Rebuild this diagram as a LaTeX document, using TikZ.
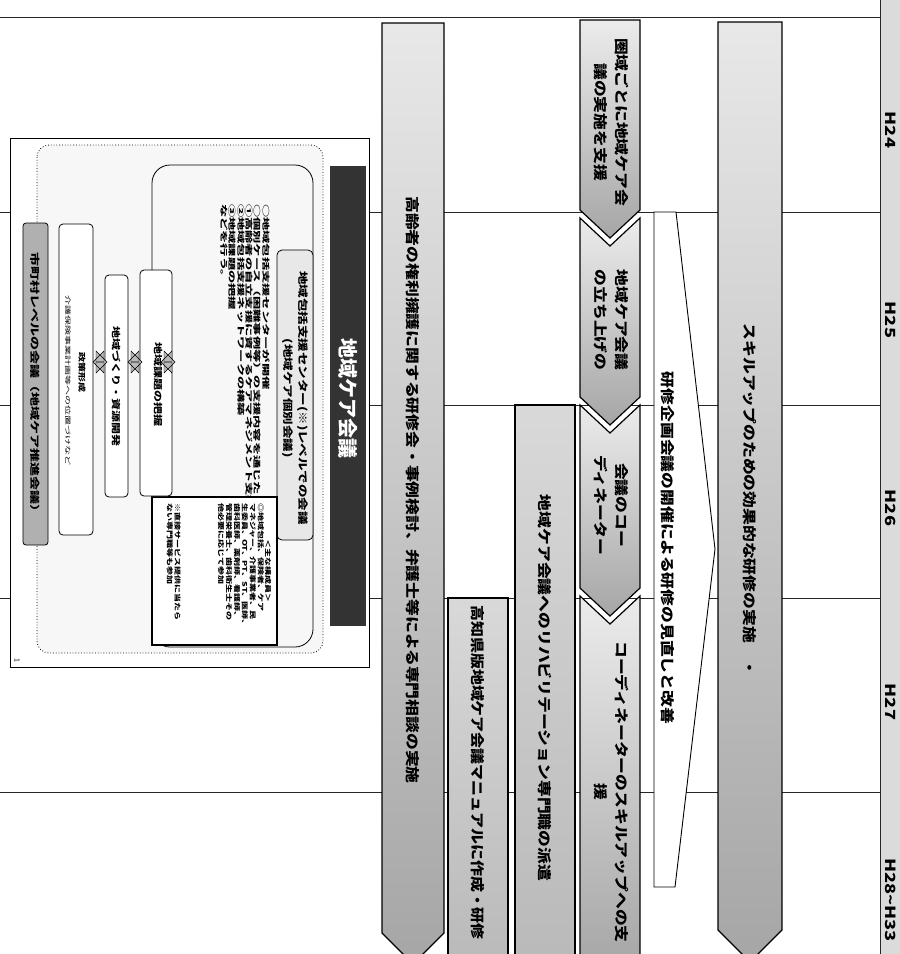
\documentclass[tikz,border=0pt]{standalone}
\usepackage{fontspec}
\setmainfont{Noto Sans CJK JP}
\usetikzlibrary{positioning, shapes.arrows}

\begin{document}
\begin{tikzpicture}[
        x=1pt, y=-1pt,
        every node/.style={inner sep=0pt},
        % lines of the year table
        rule/.style={line width=0.9pt, draw=black!85},
        % long gray bars, light at the top and darker below
        bar/.style={draw=black, line width=1.2pt, top color=gray!18, bottom color=gray!70},
        flatbar/.style={draw=black, line width=1.2pt, top color=gray!30, bottom color=gray!55},
        chev/.style={draw=black, line width=1.2pt, top color=gray!15, bottom color=gray!70},
        wedge/.style={draw=black, line width=0.9pt, fill=white},
        % text that reads downwards (the page is turned)
        vtext/.style={rotate=-90, xscale=1.2, align=center, font=\bfseries\fontsize{14}{21}\selectfont},
        hlabel/.style={rotate=-90, xscale=1.3, font=\bfseries\fontsize{14}{16}\selectfont},
        % inset figure on the left
        panel/.style={draw=black, line width=1pt, fill=white},
        dotbox/.style={draw=black, dotted, line width=0.8pt, rounded corners=12pt, fill=gray!6},
        inbox/.style={draw=black, line width=0.8pt, rounded corners=18pt},
        stepbox/.style={draw=black, line width=0.8pt, rounded corners=4pt, fill=white},
        ptitle/.style={rotate=-90, text=white, font=\bfseries\fontsize{20}{22}\selectfont},
        ptext/.style={rotate=-90, align=center, yscale=0.75, font=\bfseries\fontsize{13.5}{20}\selectfont},
        ltext/.style={rotate=-90, align=left, xscale=1.06, yscale=0.6, font=\bfseries\fontsize{12.5}{14}\selectfont},
        mtext/.style={rotate=-90, align=left, yscale=0.72, font=\bfseries\fontsize{9}{11}\selectfont},
        btext/.style={rotate=-90, align=center, yscale=0.75, font=\bfseries\fontsize{12}{14}\selectfont},
        stext/.style={rotate=-90, align=center, yscale=0.6, font=\fontsize{10}{12}\selectfont},
        twoway/.style={double arrow, draw=black, line width=0.4pt, fill=gray!55, minimum height=14pt, minimum width=22pt, double arrow head extend=4pt}
    ]

    \useasboundingbox (0,0) rectangle (900,954);
    \clip (0,0) rectangle (900,954);
    \fill[white] (0,0) rectangle (900,954);

    % --- year rows ---
    \fill[gray!28] (880,0) rectangle (900,954);
    \draw[rule] (0,17) -- (880,17);
    \draw[rule] (0,212) -- (880,212);
    \draw[rule] (0,405) -- (880,405);
    \draw[rule] (0,598) -- (880,598);
    \draw[rule] (0,792) -- (880,792);
    \draw[rule] (880,0) -- (880,954);

    \node[hlabel] (h24) at (891,130) {H24};
    \node[hlabel] (h25) at (891,320) {H25};
    \node[hlabel] (h26) at (891,508) {H26};
    \node[hlabel] (h27) at (891,702) {H27};
    \node[hlabel] (h28) at (891,900) {H28\textasciitilde H33};

    % --- rights protection bar ---
    \draw[bar] (382,23) -- (444,23) -- (444,933) -- (413,964) -- (382,933) -- cycle;
    \node[vtext] (rights) at (413,490) {高齢者の権利擁護に関する研修会・事例検討、弁護士等による専門相談の実施};

    % --- manual and rehabilitation bars ---
    \draw[flatbar] (448,598) rectangle (508,970);
    \node[vtext, xscale=0.95, anchor=west] (manual) at (478,605) {高知県版地域ケア会議マニュアルに作成・研修};
    \draw[flatbar] (515,405) rectangle (575,970);
    \node[vtext] (rehab) at (545,688) {地域ケア会議へのリハビリテーション専門職の派遣};

    % --- chevrons: support steps ---
    \draw[chev] (580,20) -- (640,20) -- (640,210) -- (610,238) -- (580,210) -- cycle;
    \draw[chev] (580,218) -- (610,246) -- (640,218) -- (640,397) -- (610,425) -- (580,397) -- cycle;
    \draw[chev] (580,405) -- (610,433) -- (640,405) -- (640,588) -- (610,616) -- (580,588) -- cycle;
    \draw[chev] (580,596) -- (610,624) -- (640,596) -- (640,970) -- (580,970) -- cycle;
    \node[vtext] (zone) at (611,122) {圏域ごとに地域ケア会\\議の実施を支援};
    \node[vtext] (launch) at (611,320) {地域ケア会議\\の立ち上げの};
    \node[vtext] (coord) at (611,505) {会議のコー\\ディネーター};
    \node[vtext] (coordup) at (611,792) {コーディネーターのスキルアップへの支\\援};

    % --- planning meeting wedge ---
    \draw[wedge] (654,212) -- (676,212) -- (715,549) -- (675,887) -- (654,887) -- cycle;
    \node[vtext] (review) at (668,548) {研修企画会議の開催による研修の見直しと改善};

    % --- skill-up bar ---
    \draw[bar] (718,22) -- (782,22) -- (782,930) -- (750,962) -- (718,930) -- cycle;
    \node[vtext] (skill) at (750,500) {スキルアップのための効果的な研修の実施　・};

    % === INSET: community care meeting ===
    \draw[panel] (10,138) rectangle (369,667);
    \draw[dotbox] (37,145) rectangle (323,653);
    \fill[black!80] (330,166) rectangle (366,626);
    \node[ptitle] (title) at (348,398) {地域ケア会議};

    \draw[inbox] (152,165) rectangle (313,647);
    \draw[draw=black, line width=0.8pt, rounded corners=5pt, fill=gray!18] (277,250) rectangle (313,540);
    \node[ptext] (centre) at (295,398) {地域包括支援センター(※)レベルでの会議\\(地域ケア個別会議)};
    \node[ltext, anchor=north west] (tasks) at (270,204) {○地域包括支援センターが開催\\○個別ケース（困難事例等）の支援内容を通じた\\①高齢者の自立支援に資するケアマネジメント支援\\②地域包括支援ネットワークの構築\\③地域課題の把握\\などを行う。};

    % members box
    \draw[draw=black, line width=1.2pt, fill=white] (152,497) rectangle (277,645);
    \node[mtext] (memberhead) at (268,571) {＜主な構成員＞};
    \node[mtext, anchor=north west] (members) at (264,503) {◎地域包括、保険者、ケア\\マネジャー、介護事業者、民\\生委員、OT、PT、ST、医師、\\歯科医師、薬剤師、看護師、\\管理栄養士、歯科衛生士その\\他必要に応じて参加};
    \node[mtext, anchor=north west] (note) at (181,503) {※直接サービス提供に当たら\\ない専門職等も参加};

    % steps toward policy
    \draw[stepbox] (140,270) rectangle (172,496);
    \node[btext] (issue) at (158,384) {地域課題の把握};
    \draw[stepbox] (105,275) rectangle (128,497);
    \node[btext] (resource) at (116,386) {地域づくり・資源開発};
    \draw[stepbox] (59,224) rectangle (93,535);
    \node[btext, font=\bfseries\fontsize{10}{12}\selectfont] (policy) at (82,372) {政策形成};
    \node[stext] (policynote) at (68,380) {介護保険事業計画等への位置づけなど};
    \draw[draw=black, line width=0.8pt, rounded corners=3pt, fill=gray!62] (23,223) rectangle (48,545);
    \node[btext, yscale=0.93, font=\bfseries\fontsize{14}{16}\selectfont] (city) at (35,385) {市町村レベルの会議（地域ケア推進会議）};

    \node[twoway] (linkA) at (168,362) {};
    \node[twoway] (linkB) at (135,362) {};
    \node[twoway] (linkC) at (100,362) {};

    \node[rotate=-90, font=\fontsize{7}{8}\selectfont] (pageno) at (17,660) {1};

\end{tikzpicture}
\end{document}
